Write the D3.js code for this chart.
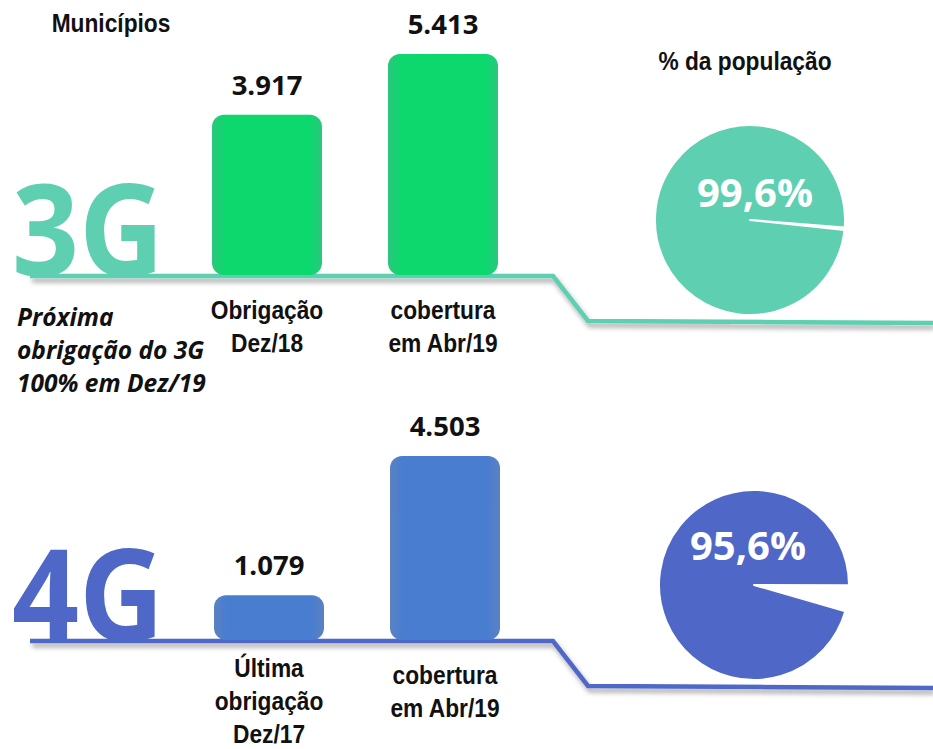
<!DOCTYPE html>
<html><head><meta charset="utf-8">
<script src="https://cdn.jsdelivr.net/npm/d3@7"></script>
<style>body{margin:0;background:#fff} svg{display:block}</style>
</head><body>
<script>
// ---- data ----
const categories3G = ["Obrigação|Dez/18", "cobertura|em Abr/19"];
const values3G = [3917, 5413];
const valueLabels3G = ["3.917", "5.413"];
const pct3G = [99.6, 0.4];
const pctLabel3G = "99,6%";

const categories4G = ["Última|obrigação|Dez/17", "cobertura|em Abr/19"];
const values4G = [1079, 4503];
const valueLabels4G = ["1.079", "4.503"];
const pct4G = [95.6, 4.4];
const pctLabel4G = "95,6%";

const noteLines = ["Próxima", "obrigação do 3G", "100% em Dez/19"];
const titleLeft = "Municípios";
const titleRight = "% da população";

// ---- setup ----
const W = 933, H = 749;
const svg = d3.select("body").append("svg").attr("width", W).attr("height", H);
const defs = svg.append("defs");
const f = defs.append("filter").attr("id", "sh").attr("x", "-5%").attr("y", "-50%").attr("width", "110%").attr("height", "400%");
f.append("feDropShadow").attr("dx", 2).attr("dy", 4).attr("stdDeviation", 2.5).attr("flood-color", "#000").attr("flood-opacity", 0.35);
const fb = defs.append("filter").attr("id", "soft");
fb.append("feGaussianBlur").attr("stdDeviation", 0.6);

function grad(id, edge, mid) {
  const g = defs.append("linearGradient").attr("id", id).attr("x1", 0).attr("x2", 1).attr("y1", 0).attr("y2", 0);
  g.append("stop").attr("offset", "0%").attr("stop-color", edge);
  g.append("stop").attr("offset", "12%").attr("stop-color", mid);
  g.append("stop").attr("offset", "88%").attr("stop-color", mid);
  g.append("stop").attr("offset", "100%").attr("stop-color", edge);
}
grad("g3", "#2cc77c", "#0bd86d");
grad("g4", "#5a82c2", "#4a7dd0");

const x = d3.scaleBand().domain([0, 1]).range([168, 542]).paddingInner(0.375).paddingOuter(0.25);
const h = d3.scaleLinear().domain([0, 5413]).range([0, 220]);

const panels = [
  { tech: "3G", cats: categories3G, vals: values3G, vlabels: valueLabels3G, pct: pct3G, plabel: pctLabel3G,
    base: 274, lineY: 276, color: "#5ecfb1", fill: "url(#g3)", cx: 750, cy: 220, start: 96, ldx: 5, ldy: -13, xoff: 0 },
  { tech: "4G", cats: categories4G, vals: values4G, vlabels: valueLabels4G, pct: pct4G, plabel: pctLabel4G,
    base: 639, lineY: 641, color: "#4f68c8", fill: "url(#g4)", cx: 754, cy: 585, start: 106, ldx: -6, ldy: -25, xoff: 2 }
];

const narrow = "'Liberation Sans', Arial, sans-serif";
const sans = "'Open Sans', 'DejaVu Sans', sans-serif";
const SQ = 0.91; // horizontal condensing for the narrow labels

// condensed text helper: lines centred at cx
function narrowText(parent, cx, y0, lines, lh) {
  const t = parent.append("text")
    .attr("transform", `translate(${cx},0) scale(${SQ},1)`)
    .attr("text-anchor", "middle")
    .attr("font-family", narrow).attr("font-weight", 700).attr("font-size", 25).attr("fill", "#111");
  lines.forEach((l, k) => t.append("tspan").attr("x", 0).attr("y", y0 + k * lh).text(l));
  return t;
}

panels.forEach(p => {
  const g = svg.append("g");
  // step baseline with shadow
  g.append("path")
    .attr("d", d3.line()([[30, p.lineY], [553, p.lineY], [588, p.lineY + 45], [933, p.lineY + 47]]))
    .attr("fill", "none").attr("stroke", p.color).attr("stroke-width", 4.5)
    .attr("stroke-linejoin", "miter").attr("filter", "url(#sh)");

  // big tech label
  g.append("text").attr("x", 12).attr("y", p.base + 2)
    .attr("font-family", sans).attr("font-weight", 700).attr("font-size", 127)
    .attr("textLength", 152).attr("lengthAdjust", "spacingAndGlyphs")
    .attr("fill", p.color).text(p.tech);

  // bars
  g.selectAll("rect.bar").data(p.vals).join("rect")
    .attr("class", "bar")
    .attr("x", (d, i) => x(i) + p.xoff).attr("width", x.bandwidth())
    .attr("y", d => p.base - h(d)).attr("height", d => h(d) + 1)
    .attr("rx", 12).attr("fill", p.fill).attr("filter", "url(#soft)");
  // value labels
  g.selectAll("text.val").data(p.vals).join("text")
    .attr("class", "val")
    .attr("x", (d, i) => x(i) + p.xoff + x.bandwidth() / 2)
    .attr("y", d => p.base - h(d) - 20)
    .attr("text-anchor", "middle").attr("font-family", sans).attr("font-weight", 700).attr("font-size", 27.5)
    .attr("fill", "#111").text((d, i) => p.vlabels[i]);
  // category labels
  p.cats.forEach((c, i) => {
    const lines = c.split("|");
    const y0 = p.base + 45 - (lines.length - 2) * 7;
    narrowText(g, x(i) + p.xoff + x.bandwidth() / 2, y0, lines, 33);
  });

  // pie
  const pie = d3.pie().sort(null).value(d => d)
    .startAngle(p.start * Math.PI / 180).endAngle((p.start + 360) * Math.PI / 180);
  const arc = d3.arc().innerRadius(0).outerRadius(95);
  const arcs = pie(p.pct);
  g.append("path").attr("transform", `translate(${p.cx},${p.cy})`)
    .attr("d", arc(arcs[0])).attr("fill", p.color)
    .attr("stroke", "#fff").attr("stroke-width", 2).attr("stroke-linejoin", "round");
  g.append("text").attr("x", p.cx + p.ldx).attr("y", p.cy + p.ldy)
    .attr("text-anchor", "middle").attr("font-family", sans).attr("font-weight", 700)
    .attr("font-size", 40).attr("fill", "#fff").text(p.plabel);
});

// titles
narrowText(svg, 111, 32, [titleLeft], 0);
narrowText(svg, 745, 70, [titleRight], 0);

// note
const note = svg.append("text").attr("font-family", sans).attr("font-weight", 700).attr("font-style", "italic")
  .attr("font-size", 24.5).attr("fill", "#111");
noteLines.forEach((l, k) => note.append("tspan").attr("x", 17).attr("y", 326 + k * 33).text(l));
</script>
</body></html>
